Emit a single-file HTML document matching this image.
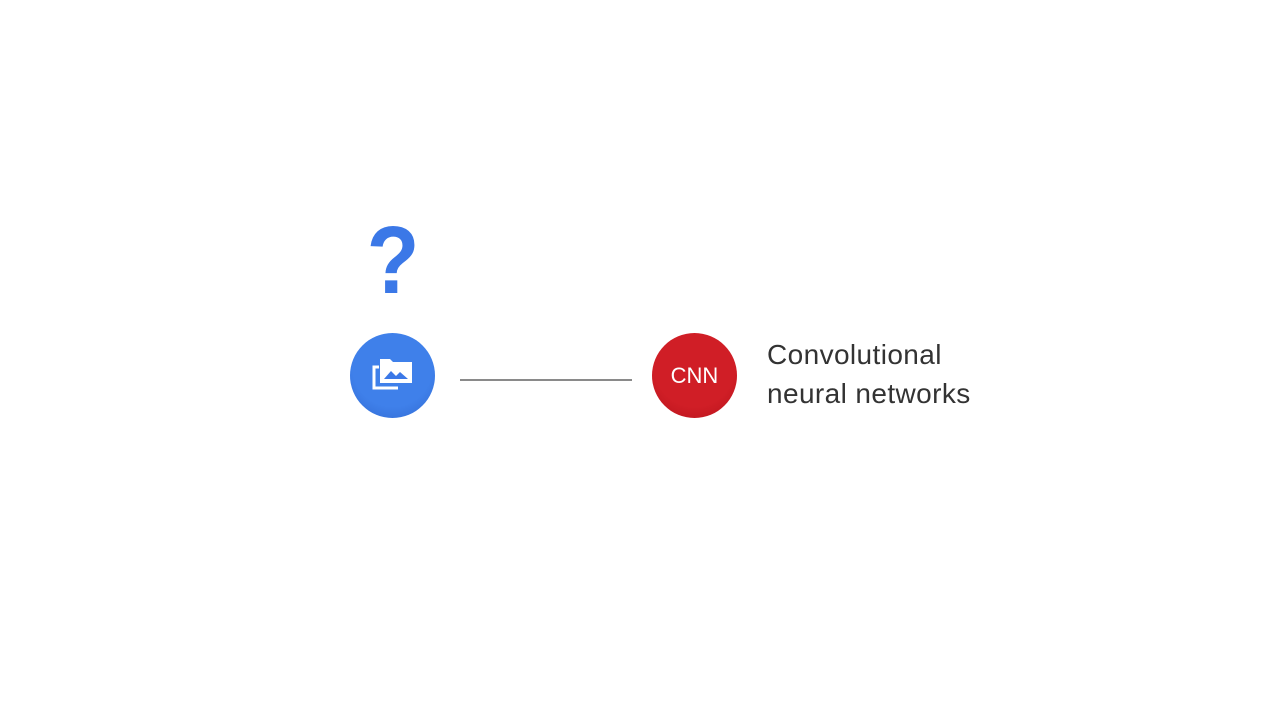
<!DOCTYPE html>
<html><head><style>
body{margin:0;width:1280px;height:720px;background:#fff;position:relative;overflow:hidden;font-family:"Liberation Sans",sans-serif}
.c{position:absolute;width:85px;height:85px;border-radius:50%}
</style></head><body>
<div style="position:absolute;left:363px;top:206px;width:60px;text-align:center;font-size:96px;font-weight:bold;color:#3b78e7;line-height:110px;transform:scaleX(0.9)">?</div>
<div class="c" style="left:350px;top:333px;background:radial-gradient(circle at 50% 40%,#3f80ea 60%,#2f68d0 100%)"></div>
<svg style="position:absolute;left:370px;top:355px" width="46" height="40" viewBox="0 0 46 40">
<path d="M9 12 h-5 v21 h24" fill="none" stroke="#fff" stroke-width="3"/>
<path d="M10 4 h10 l3 3 h19 v21 h-32 z" fill="#fff"/>
<path d="M14 24 l7-8 5 5 4-4 8 7 z" fill="#3b78e7"/>
</svg>
<div style="position:absolute;left:460px;top:379px;width:172px;height:2px;background:#8a8a8a"></div>
<div class="c" style="left:652px;top:333px;background:radial-gradient(circle at 50% 40%,#d01e26 60%,#b5121b 100%);color:#fff;font-size:22px;line-height:85px;text-align:center">CNN</div>
<div style="position:absolute;left:767px;top:335px;font-size:28px;letter-spacing:0.4px;line-height:39px;color:#333">Convolutional<br>neural networks</div>
</body></html>
